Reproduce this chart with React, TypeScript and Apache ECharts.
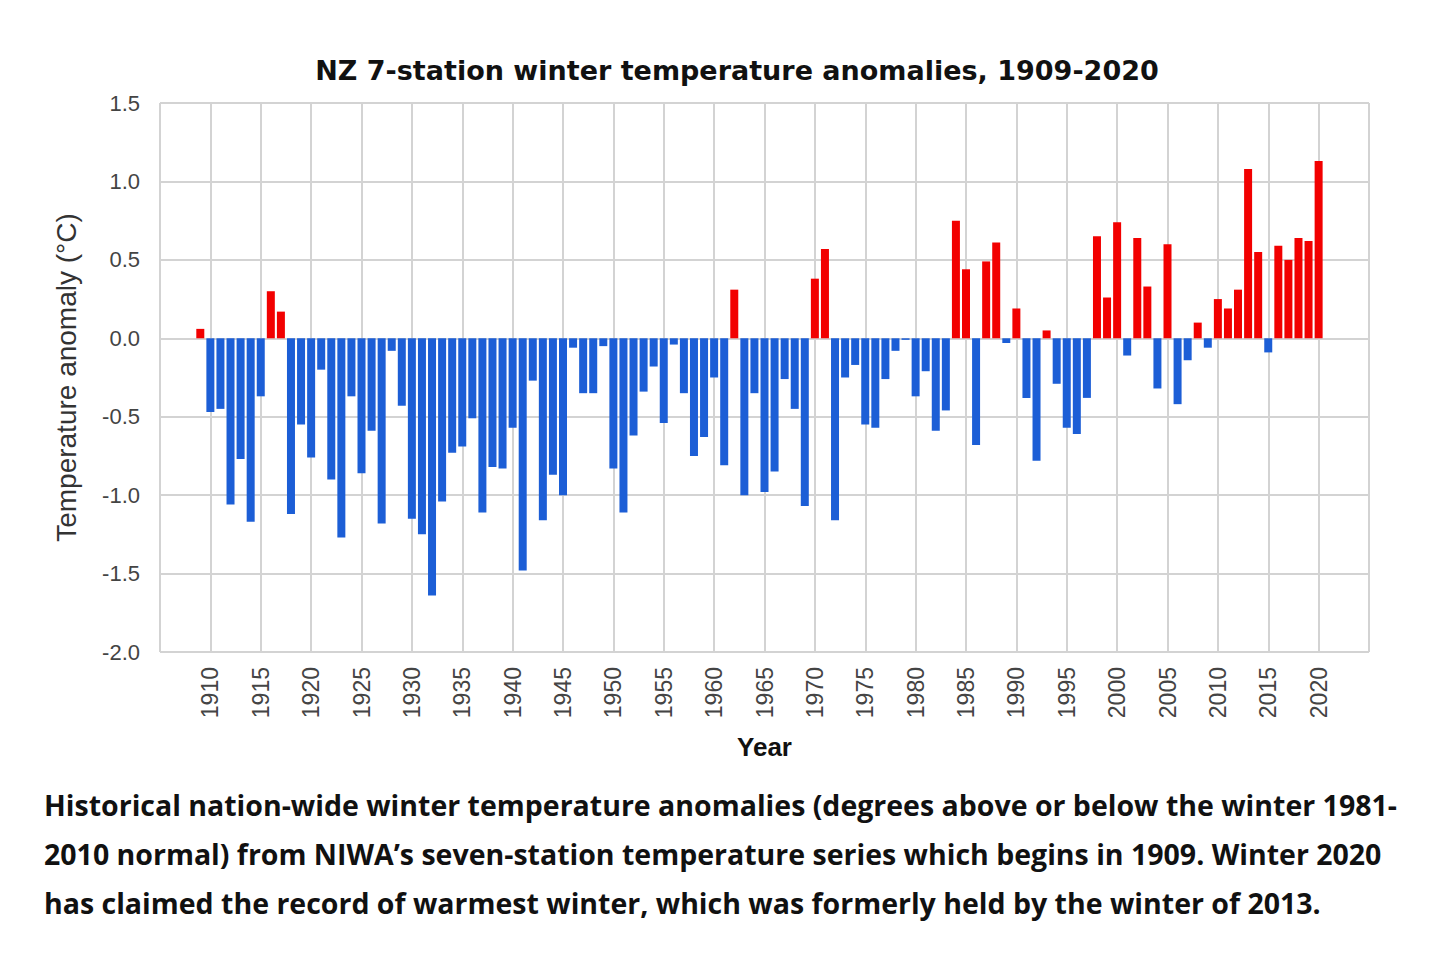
import React, { useEffect, useRef } from "react";
import * as echarts from "echarts";

const titleText = "NZ 7-station winter temperature anomalies, 1909-2020";
const yAxisTitle = "Temperature anomaly (°C)";
const xAxisTitle = "Year";
const captionLines = [
  "Historical nation-wide winter temperature anomalies (degrees above or below the winter 1981-",
  "2010 normal) from NIWA’s seven-station temperature series which begins in 1909. Winter 2020",
  "has claimed the record of warmest winter, which was formerly held by the winter of 2013.",
];

const years = [
  1909, 1910, 1911, 1912, 1913, 1914, 1915, 1916, 1917, 1918, 1919,
  1920, 1921, 1922, 1923, 1924, 1925, 1926, 1927, 1928, 1929,
  1930, 1931, 1932, 1933, 1934, 1935, 1936, 1937, 1938, 1939,
  1940, 1941, 1942, 1943, 1944, 1945, 1946, 1947, 1948, 1949,
  1950, 1951, 1952, 1953, 1954, 1955, 1956, 1957, 1958, 1959,
  1960, 1961, 1962, 1963, 1964, 1965, 1966, 1967, 1968, 1969,
  1970, 1971, 1972, 1973, 1974, 1975, 1976, 1977, 1978, 1979,
  1980, 1981, 1982, 1983, 1984, 1985, 1986, 1987, 1988, 1989,
  1990, 1991, 1992, 1993, 1994, 1995, 1996, 1997, 1998, 1999,
  2000, 2001, 2002, 2003, 2004, 2005, 2006, 2007, 2008, 2009,
  2010, 2011, 2012, 2013, 2014, 2015, 2016, 2017, 2018, 2019,
  2020,
];

const anomalies = [
  0.06, -0.47, -0.45, -1.06, -0.77, -1.17, -0.37, 0.3, 0.17, -1.12, -0.55,
  -0.76, -0.2, -0.9, -1.27, -0.37, -0.86, -0.59, -1.18, -0.08, -0.43,
  -1.15, -1.25, -1.64, -1.04, -0.73, -0.69, -0.51, -1.11, -0.82, -0.83,
  -0.57, -1.48, -0.27, -1.16, -0.87, -1.0, -0.06, -0.35, -0.35, -0.05,
  -0.83, -1.11, -0.62, -0.34, -0.18, -0.54, -0.04, -0.35, -0.75, -0.63,
  -0.25, -0.81, 0.31, -1.0, -0.35, -0.98, -0.85, -0.26, -0.45, -1.07,
  0.38, 0.57, -1.16, -0.25, -0.17, -0.55, -0.57, -0.26, -0.08, -0.01,
  -0.37, -0.21, -0.59, -0.46, 0.75, 0.44, -0.68, 0.49, 0.61, -0.03,
  0.19, -0.38, -0.78, 0.05, -0.29, -0.57, -0.61, -0.38, 0.65, 0.26,
  0.74, -0.11, 0.64, 0.33, -0.32, 0.6, -0.42, -0.14, 0.1, -0.06,
  0.25, 0.19, 0.31, 1.08, 0.55, -0.09, 0.59, 0.5, 0.64, 0.62,
  1.13,
];

const xRange = [1905, 2025];
const xStep = 5;
const yRange = [-2.0, 1.5];
const yStep = 0.5;

const WARM = "#f20000";
const COOL = "#1c5ed6";
const GRID = "#d3d3d3";

export default function App() {
  const ref = useRef<HTMLDivElement>(null);

  useEffect(() => {
    if (!ref.current) return;
    const chart = echarts.init(ref.current, null, { renderer: "svg" });
    const data = years.map((y, i) => ({
      value: [y, anomalies[i]],
      itemStyle: { color: anomalies[i] >= 0 ? WARM : COOL },
    }));

    chart.setOption({
      animation: false,
      backgroundColor: "#ffffff",
      textStyle: { fontFamily: "Liberation Sans, Arial, sans-serif" },
      title: {
        text: titleText,
        left: 732,
        textAlign: "center",
        top: 52,
        textStyle: {
          fontFamily: "DejaVu Sans, sans-serif",
          fontSize: 27,
          fontWeight: "bold",
          color: "#111111",
        },
      },
      grid: { left: 160, right: 71, top: 103, bottom: 305, containLabel: false },
      xAxis: {
        type: "value",
        min: xRange[0],
        max: xRange[1],
        interval: xStep,
        name: xAxisTitle,
        nameLocation: "middle",
        nameGap: 82,
        nameTextStyle: {
          fontSize: 26,
          fontWeight: "bold",
          color: "#111111",
          fontFamily: "Liberation Sans, Arial, sans-serif",
        },
        axisLine: { show: false },
        axisTick: { show: false },
        axisLabel: {
          rotate: 90,
          margin: 15,
          fontSize: 23,
          color: "#444444",
          showMinLabel: false,
          showMaxLabel: false,
          formatter: (v: number) => String(v),
        },
        splitLine: { show: true, lineStyle: { color: GRID, width: 2 } },
      },
      yAxis: {
        type: "value",
        min: yRange[0],
        max: yRange[1],
        interval: yStep,
        name: yAxisTitle,
        nameLocation: "middle",
        nameRotate: 90,
        nameGap: 80,
        nameTextStyle: {
          fontSize: 28,
          color: "#333333",
          fontFamily: "Liberation Sans, Arial, sans-serif",
          padding: [0, 0, 0, 0],
        },
        axisLine: { show: false },
        axisTick: { show: false },
        axisLabel: {
          margin: 20,
          fontSize: 22,
          color: "#444444",
          formatter: (v: number) => v.toFixed(1),
        },
        splitLine: { show: true, lineStyle: { color: GRID, width: 2 } },
      },
      series: [
        {
          type: "bar",
          data,
          barWidth: 8,
        },
      ],
      graphic: captionLines.map((line, i) => ({
        type: "text",
        left: 44,
        top: 790 + i * 49,
        style: {
          text: line,
          fontFamily: "Open Sans, sans-serif",
          fontWeight: "bold",
          fontSize: 28.5,
          fill: "#111111",
        },
      })),
    });

    return () => chart.dispose();
  }, []);

  return (
    <div
      ref={ref}
      style={{ position: "absolute", left: 0, top: 0, width: 1440, height: 957, background: "#fff" }}
    />
  );
}
